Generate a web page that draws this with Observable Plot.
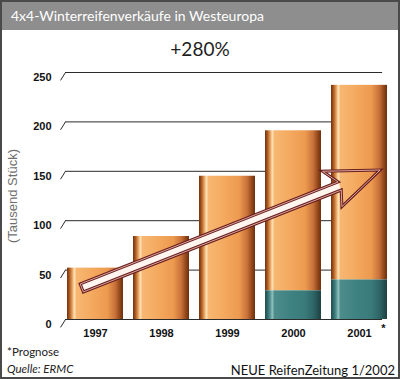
<!DOCTYPE html>
<html>
<head>
<meta charset="utf-8">
<script src="https://cdn.jsdelivr.net/npm/d3@7"></script>
<script src="https://cdn.jsdelivr.net/npm/@observablehq/plot@0.6"></script>
<style>
  html, body { margin: 0; padding: 0; background: #fff; }
  #card { position: relative; width: 400px; height: 379px; overflow: hidden; background: #fff; font-family: Lato, "Open Sans", sans-serif; }
  #frame { position: absolute; left: 0; top: 0; width: 400px; height: 379px; box-sizing: border-box; border: 2px solid #4a4a4a; pointer-events: none; }
  #title { position: absolute; left: 0; top: 0; width: 400px; height: 30px; background: #8e8e8e; color: #fff; font-size: 14px; line-height: 32px; padding-left: 11px; box-sizing: border-box; white-space: nowrap; }
  #sub { position: absolute; top: 37px; left: 0; width: 400px; text-align: center; font-size: 19px; color: #1e1e1e; line-height: 24px; }
  #chart { position: absolute; left: 0; top: 60px; }
  #note1 { position: absolute; left: 7px; top: 344px; font-size: 11.5px; color: #222; line-height: 16px; }
  #note2 { position: absolute; left: 7px; top: 361px; font-size: 11.5px; font-style: italic; color: #222; line-height: 16px; }
  #credit { position: absolute; right: 5px; top: 361px; font-size: 13px; color: #111; line-height: 18px; }
</style>
</head>
<body>
<div id="card">
  <div id="title">4x4-Winterreifenverkäufe in Westeuropa</div>
  <div id="sub">+280%</div>
  <div id="chart"></div>
  <div id="note1">*Prognose</div>
  <div id="note2">Quelle: ERMC</div>
  <div id="credit">NEUE ReifenZeitung 1/2002</div>
  <div id="frame"></div>
</div>
<script>
// ---- data ----
const years = [1997, 1998, 1999, 2000, 2001];
const yearLabels = ["1997", "1998", "1999", "2000", "2001"];
const totalSales = [52, 84, 145, 191, 237];     // Tausend Stück
const lowerSegment = [0, 0, 0, 29, 40];         // teal part at the bottom
const yTicks = [0, 50, 100, 150, 200, 250];
const yTickLabels = ["0", "50", "100", "150", "200", "250"];
const forecastYears = [2001];
// trend arrow: tail and tip in data units (year, Tausend Stück)
const trendArrow = [{x1: 1996.8, y1: 31.4, x2: 2001.32, y2: 150.8}];

const rows = years.map((y, i) => ({year: y, total: totalSales[i], base: lowerSegment[i], label: yearLabels[i]}));
const ticks = yTicks.map((v, i) => ({v, label: yTickLabels[i]}));

const halfBar = 0.424;
const gridStart = 1996.545;
const gridEnd = 2001.35;
const tickStart = 1996.47;

function gradientDefs() {
  const defs = d3.create("svg:defs");
  const mk = (id, stops) => {
    const g = defs.append("linearGradient").attr("id", id)
      .attr("x1", 0).attr("x2", 1).attr("y1", 0).attr("y2", 0);
    stops.forEach(([o, c]) => g.append("stop").attr("offset", o).attr("stop-color", c));
  };
  mk("cylOrange", [
    [0, "#6e300e"], [0.04, "#a4541f"], [0.09, "#e59a55"], [0.13, "#fde2b6"],
    [0.17, "#f7b772"], [0.45, "#f4a95f"], [0.72, "#ec9a4f"], [0.86, "#c9713a"],
    [0.95, "#8e4418"], [1, "#6a2e0e"]
  ]);
  mk("cylTeal", [
    [0, "#1f4b4d"], [0.04, "#2f6567"], [0.09, "#4f8f8f"], [0.13, "#8fc0bd"],
    [0.17, "#4d8c8b"], [0.45, "#3f8282"], [0.72, "#3a7a7a"], [0.86, "#2f6667"],
    [0.95, "#234e50"], [1, "#1b4042"]
  ]);
  return defs.node();
}

// outlined "3D" arrow drawn from the trendArrow data through the scales
function trendArrowMark(index, scales) {
  const g = d3.create("svg:g");
  trendArrow.forEach(a => {
    const X1 = scales.x(a.x1), Y1 = scales.y(a.y1), X2 = scales.x(a.x2), Y2 = scales.y(a.y2);
    const L = Math.hypot(X2 - X1, Y2 - Y1);
    const ux = (X2 - X1) / L, uy = (Y2 - Y1) / L;
    const nx = uy, ny = -ux;
    const P = (t, s) => [X1 + ux * t + nx * s, Y1 + uy * t + ny * s];
    const w = 4.3, hw = 20, notch = 43.5;
    const outline = [P(0, w), P(L - notch, w), P(L - 54, hw), P(L, 0), P(L - 49, -hw), P(L - notch, -w), P(0, -w)];
    const shaft = [P(0, w), P(L - notch, w), P(L - notch, -w), P(0, -w)];
    const path = pts => "M" + pts.map(p => p.join(",")).join("L") + "Z";
    g.append("path").attr("d", path(shaft)).attr("fill", "#fff4ee");
    g.append("path").attr("d", path(outline)).attr("fill", "none")
      .attr("stroke", "#6a1f1f").attr("stroke-width", 3).attr("stroke-linejoin", "miter").attr("stroke-miterlimit", 10);
    g.append("path").attr("d", path(outline)).attr("fill", "none")
      .attr("stroke", "#e7b3aa").attr("stroke-width", 0.9).attr("stroke-linejoin", "miter").attr("stroke-miterlimit", 10);
  });
  return g.node();
}

const chart = Plot.plot({
  width: 400,
  height: 290,
  marginLeft: 62,
  marginRight: 8,
  marginTop: 12,
  marginBottom: 31,
  style: {background: "transparent", fontFamily: "'Liberation Sans', Arial, sans-serif"},
  x: {type: "linear", domain: [1996.5, 2001.5], axis: null},
  y: {domain: [0, 250], axis: null},
  marks: [
    gradientDefs,
    Plot.ruleY(ticks, {y: "v", x1: gridStart, x2: gridEnd, stroke: "#2b2b2b", strokeWidth: 1}),
    Plot.link(ticks, {x1: tickStart, x2: gridStart, y1: d => d.v - 8, y2: "v", stroke: "#2b2b2b", strokeWidth: 1}),
    Plot.text(ticks, {y: "v", text: "label", frameAnchor: "left", dx: -11, dy: 5, textAnchor: "end",
      fontWeight: "bold", fontSize: 11, fill: "#111"}),
    Plot.rectY(rows, {x1: d => d.year - halfBar, x2: d => d.year + halfBar, y1: "base", y2: "total", fill: "url(#cylOrange)"}),
    Plot.rectY(rows.filter(d => d.base > 0), {x1: d => d.year - halfBar, x2: d => d.year + halfBar, y1: 0, y2: "base", fill: "url(#cylTeal)"}),
    trendArrowMark,
    Plot.text(rows, {x: "year", text: "label", frameAnchor: "bottom", dy: 17, fontWeight: "bold", fontSize: 11, fill: "#111"}),
    Plot.text(forecastYears, {x: d => d, text: () => "*", frameAnchor: "bottom", dx: 24, dy: 12, fontWeight: "bold", fontSize: 11, fill: "#111"}),
    Plot.text(["(Tausend Stück)"], {text: d => d, frameAnchor: "left", textAnchor: "middle", dx: -50, dy: 0, rotate: -90, fontSize: 13, fill: "#6f6f6f"})
  ]
});
document.getElementById("chart").appendChild(chart);
</script>
</body>
</html>
